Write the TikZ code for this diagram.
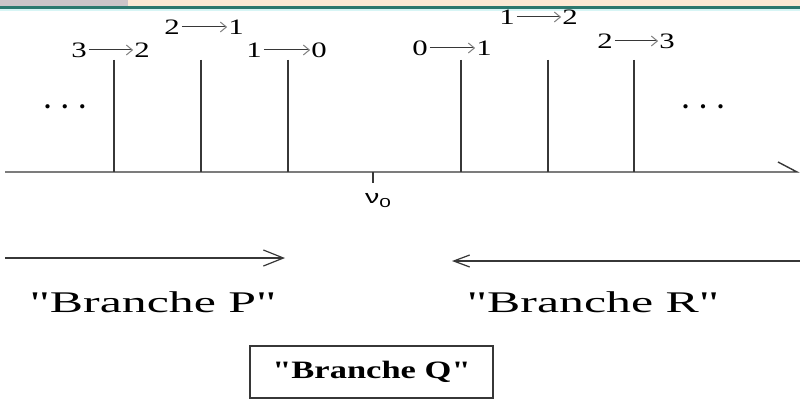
\documentclass[tikz,border=0pt]{standalone}
\usepackage{graphicx}
\usepackage{fontspec}
\setmainfont{Liberation Serif}[Ligatures=TeXOff]
\newfontfamily\sansf{Liberation Sans}[Ligatures=TeXOff]
\usetikzlibrary{arrows.meta}
\definecolor{bandgray}{RGB}{205,196,200}
\definecolor{bandbeige}{RGB}{253,233,212}
\definecolor{bandteal}{RGB}{45,120,110}
\definecolor{bandcyan}{RGB}{215,245,245}
\definecolor{ink}{RGB}{55,55,55}
\newcommand\hs[2]{\scalebox{#1}[1]{#2}}
\begin{document}
\begin{tikzpicture}[x=1pt,y=-1pt,
  dig/.style={inner sep=0pt, font=\fontsize{22}{22}\selectfont},
  lab/.style={draw=ink, line width=1pt, shorten <=2pt, shorten >=1pt,
    -{Straight Barb[length=6pt,width=10pt,color=gray]}},
  vline/.style={draw=ink, line width=1.4pt},
  axisline/.style={draw=ink, line width=1.4pt},
  bigarrow/.style={draw=ink, line width=1.2pt, -{Straight Barb[length=20pt,width=16pt]}},
  smallarrow/.style={draw=ink, line width=1.2pt, -{Straight Barb[length=16pt,width=12pt]}},
  branch/.style={inner sep=0pt, font=\fontsize{30}{30}\selectfont},
  qbox/.style={draw=ink, line width=1.3pt, inner sep=0pt, font=\bfseries\fontsize{25}{25}\selectfont},
  dots/.style={inner sep=0pt, font=\bfseries\fontsize{26}{26}\selectfont}
]
\useasboundingbox (0,0) rectangle (800,404);
\fill[white] (0,0) rectangle (800,404);
% top band
\fill[bandgray] (0,0) rectangle (128,6);
\fill[bandbeige] (128,0) rectangle (800,6);
\fill[bandteal] (0,6) rectangle (800,9);
\fill[bandcyan] (0,9) rectangle (800,11);

% transition labels
\node[dig] (a1) at (79,50) {\hs{1.4}{3}};
\node[dig] (a2) at (142,50) {\hs{1.4}{2}};
\node[dig] (b1) at (172,27) {\hs{1.4}{2}};
\node[dig] (b2) at (236,27) {\hs{1.4}{1}};
\node[dig] (c1) at (254,50) {\hs{1.4}{1}};
\node[dig] (c2) at (319,50) {\hs{1.4}{0}};
\node[dig] (d1) at (420,48) {\hs{1.4}{0}};
\node[dig] (d2) at (484,48) {\hs{1.4}{1}};
\node[dig] (e1) at (507,17) {\hs{1.4}{1}};
\node[dig] (e2) at (570,17) {\hs{1.4}{2}};
\node[dig] (f1) at (605,41) {\hs{1.4}{2}};
\node[dig] (f2) at (667,41) {\hs{1.4}{3}};
\draw[lab] (a1) -- (a2);
\draw[lab] (b1) -- (b2);
\draw[lab] (c1) -- (c2);
\draw[lab] (d1) -- (d2);
\draw[lab] (e1) -- (e2);
\draw[lab] (f1) -- (f2);

% dots
\node[dots] (dl) at (65,107) {.\hspace{11pt}.\hspace{11pt}.};
\node[dots] (dr) at (703,107) {.\hspace{11pt}.\hspace{11pt}.};

% vertical lines
\foreach \x in {114,201,288,461,548,634}
  \draw[vline] (\x,60) -- (\x,172);

% axis
\coordinate (ax0) at (5,172);
\coordinate (ax1) at (797,172);
\coordinate (axb) at (778,162);
\draw[axisline] (ax0) -- (ax1) -- (axb);
\coordinate (t0) at (373,172);
\coordinate (t1) at (373,183);
\draw[axisline] (t0) -- (t1);
\node[inner sep=0pt, font=\sansf\fontsize{19}{19}\selectfont] (nu) at (378,201)
  {\hs{1.5}{ν}\raisebox{-4pt}{\hs{1.6}{\fontsize{13}{13}\selectfont 0}}};

% branch arrows
\coordinate (pS) at (5,258);
\coordinate (pE) at (285,258);
\draw[bigarrow] (pS) -- (pE);
\coordinate (rS) at (800,261);
\coordinate (rE) at (452,261);
\draw[smallarrow] (rS) -- (rE);

% branch labels
\node[branch] (bp) at (153,302) {\hs{1.66}{"Branche P"}};
\node[branch] (br) at (593,302) {\hs{1.66}{"Branche R"}};
\node[qbox, minimum width=243pt, minimum height=52pt] (bq) at (371.5,372)
  {\hs{1.38}{"Branche Q"}};
\end{tikzpicture}
\end{document}
